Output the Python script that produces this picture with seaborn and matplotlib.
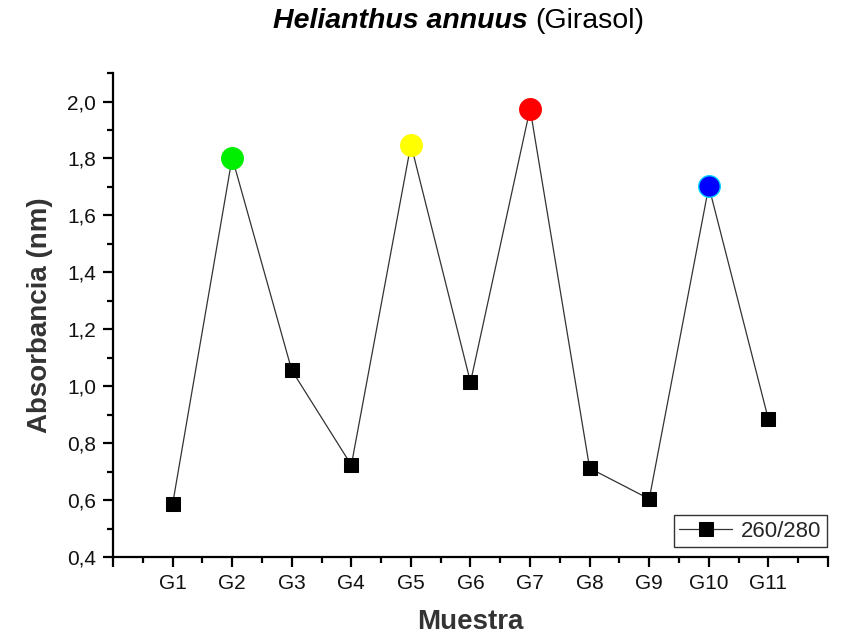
import matplotlib
matplotlib.use("Agg")
import matplotlib.pyplot as plt
from matplotlib.ticker import MultipleLocator
import seaborn as sns
import pandas as pd

# Sample labels and 260/280 absorbance ratios
samples = ["G1", "G2", "G3", "G4", "G5", "G6", "G7", "G8", "G9", "G10", "G11"]
ratio = [0.586, 1.803, 1.056, 0.723, 1.849, 1.014, 1.975, 0.712, 0.604, 1.702, 0.884]

# Samples highlighted with coloured circles
highlight_samples = ["G2", "G5", "G7", "G10"]
highlight_faces = ["#00ee00", "#ffff00", "#ff0000", "#0000ff"]
highlight_edges = ["#00ee00", "#ffff00", "#ff0000", "#00d0ff"]

df = pd.DataFrame({"pos": range(1, len(samples) + 1), "sample": samples, "ratio": ratio})

sns.set_theme(style="white")
plt.rcParams["font.family"] = ["Liberation Sans", "DejaVu Sans"]

fig = plt.figure(figsize=(8.41, 6.41), dpi=100)
ax = fig.add_axes([0.1344, 0.131, 0.8501, 0.755])

sns.lineplot(data=df, x="pos", y="ratio", ax=ax, color="#333333", linewidth=0.9,
             marker="s", markersize=9.5, markerfacecolor="black",
             markeredgecolor="black", label="260/280")

hl = df[df["sample"].isin(highlight_samples)].set_index("sample").loc[highlight_samples].reset_index()
for (_, row), fc, ec in zip(hl.iterrows(), highlight_faces, highlight_edges):
    ax.plot(row["pos"], row["ratio"], marker="o", markersize=15.5,
            markerfacecolor=fc, markeredgecolor=ec, markeredgewidth=1.0,
            linestyle="none", zorder=5)

ax.set_xlim(0, 12)
ax.set_ylim(0.4, 2.1)
ax.set_xticks(range(0, 13))
ax.set_xticklabels([""] + samples + [""])
ax.xaxis.set_minor_locator(MultipleLocator(0.5))
ax.set_yticks([0.4 + 0.2 * i for i in range(9)])
ax.set_yticklabels([f"{0.4 + 0.2 * i:.1f}".replace(".", ",") for i in range(9)])
ax.yaxis.set_minor_locator(MultipleLocator(0.1))

for side in ["top", "right"]:
    ax.spines[side].set_visible(False)
for side in ["left", "bottom"]:
    ax.spines[side].set_color("black")
    ax.spines[side].set_linewidth(1.6)

ax.tick_params(which="major", direction="out", length=7, width=1.6, color="black",
               labelsize=15, labelcolor="#111111", pad=5, bottom=True, left=True)
ax.tick_params(which="minor", direction="out", length=4, width=1.6, color="black",
               bottom=True, left=True)

ax.set_xlabel("Muestra", fontsize=20, fontweight="bold", color="#333333", labelpad=12)
ax.set_ylabel("Absorbancia (nm)", fontsize=20, fontweight="bold", color="#333333", labelpad=10)

fig.text(0.628, 0.967, "Helianthus annuus", ha="right", va="center",
         fontsize=20.5, fontweight="bold", fontstyle="italic", color="black")
fig.text(0.637, 0.967, "(Girasol)", ha="left", va="center", fontsize=20.5, color="black")

leg = ax.legend(loc="lower right", frameon=True, fancybox=False, fontsize=16,
                handlelength=2.4, borderpad=0.25, handletextpad=0.4,
                borderaxespad=0.0, bbox_to_anchor=(0.999, 0.02))
leg.get_frame().set_edgecolor("black")
leg.get_frame().set_linewidth(1.0)

fig.savefig("out.png", dpi=100, facecolor="white")
